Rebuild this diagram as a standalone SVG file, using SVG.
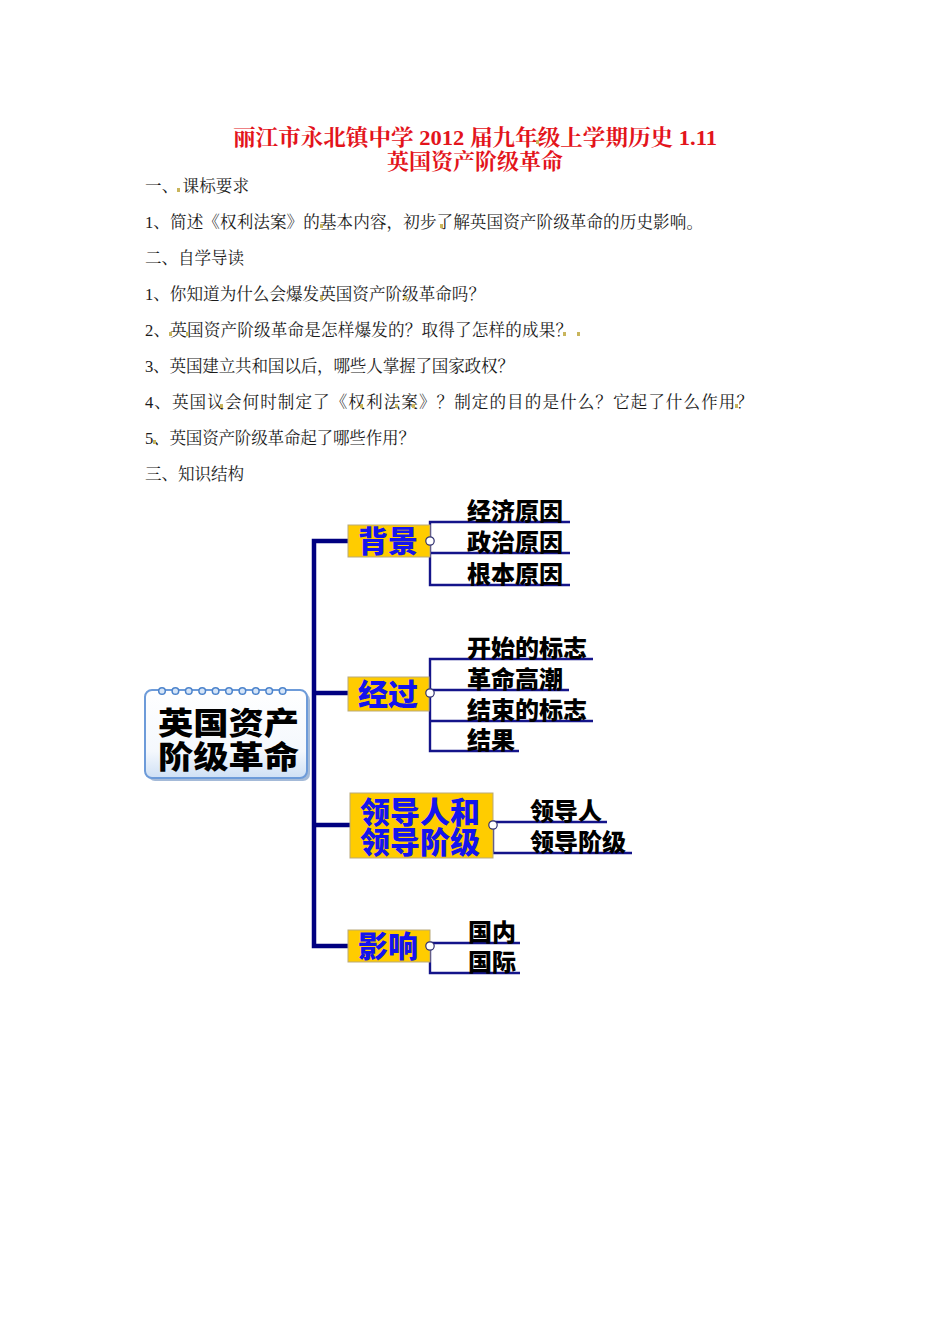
<svg xmlns="http://www.w3.org/2000/svg" width="950" height="1344" viewBox="0 0 950 1344">
<style>
.title{font-family:"Liberation Serif","Noto Serif CJK SC","Noto Sans CJK SC",serif;font-size:22px;font-weight:bold;fill:#e3141b;}
.body{font-family:"Liberation Serif","Noto Serif CJK SC","Noto Sans CJK SC",serif;font-size:16.6px;fill:#1a1a1a;}
.mark{fill:#c9b55c;}
.trunk{stroke:#000080;stroke-width:4.5;fill:none;stroke-linejoin:miter;}
.br{stroke:#14148a;stroke-width:2.4;fill:none;}
.box{fill:#ffcc00;stroke:#b9a97a;stroke-width:1;}
.blue{font-family:"Noto Sans CJK SC",sans-serif;font-weight:900;font-size:30px;fill:#1414ee;text-anchor:middle;}
.leaf{font-family:"Noto Sans CJK SC",sans-serif;font-weight:900;font-size:24px;fill:#000;}
.dot{fill:#fff;stroke:#303070;stroke-width:1.2;}
.ring{fill:#d6e5f7;stroke:#4d84cc;stroke-width:1.5;}
.ctext{font-family:"Noto Sans CJK SC",sans-serif;font-weight:900;font-size:31px;fill:#000;}
</style>
<defs>
<linearGradient id="cg" x1="0" y1="0" x2="0" y2="1">
<stop offset="0" stop-color="#ffffff"/>
<stop offset="0.7" stop-color="#f4f8fd"/>
<stop offset="1" stop-color="#cfe0f5"/>
</linearGradient>
</defs>
<rect width="950" height="1344" fill="#fff"/>
<g id="header">
<text class="title" x="233" y="145" textLength="484" lengthAdjust="spacingAndGlyphs">丽江市永北镇中学 2012 届九年级上学期历史 1.11</text>
<text class="title" x="387" y="169" textLength="176" lengthAdjust="spacingAndGlyphs">英国资产阶级革命</text>
<rect class="mark" x="536" y="140" width="3" height="4"/>
</g>
<g id="text">
<text class="body" x="145" y="192" textLength="104" lengthAdjust="spacing">一、 课标要求</text>
<text class="body" x="145" y="228" textLength="558" lengthAdjust="spacing">1、简述《权利法案》的基本内容，初步了解英国资产阶级革命的历史影响。</text>
<text class="body" x="145" y="264" textLength="99" lengthAdjust="spacing">二、自学导读</text>
<text class="body" x="145" y="300" textLength="340" lengthAdjust="spacing">1、你知道为什么会爆发英国资产阶级革命吗？</text>
<text class="body" x="145" y="336" textLength="427" lengthAdjust="spacing">2、英国资产阶级革命是怎样爆发的？取得了怎样的成果？</text>
<text class="body" x="145" y="372" textLength="369" lengthAdjust="spacing">3、英国建立共和国以后，哪些人掌握了国家政权？</text>
<text class="body" x="145" y="408" textLength="608" lengthAdjust="spacing">4、英国议会何时制定了《权利法案》？制定的目的是什么？它起了什么作用？</text>
<text class="body" x="145" y="444" textLength="270" lengthAdjust="spacing">5、英国资产阶级革命起了哪些作用？</text>
<text class="body" x="145" y="480" textLength="99" lengthAdjust="spacing">三、知识结构</text>
<rect class="mark" x="177" y="188" width="3" height="4"/>
<rect class="mark" x="320" y="224" width="3" height="4"/>
<rect class="mark" x="440" y="224" width="3" height="4"/>
<rect class="mark" x="320" y="296" width="3" height="4"/>
<rect class="mark" x="404" y="296" width="3" height="4"/>
<rect class="mark" x="169" y="332" width="3" height="4"/>
<rect class="mark" x="186" y="332" width="3" height="4"/>
<rect class="mark" x="563" y="332" width="3" height="4"/>
<rect class="mark" x="577" y="332" width="3" height="4"/>
<rect class="mark" x="220" y="404" width="3" height="4"/>
<rect class="mark" x="360" y="404" width="3" height="4"/>
<rect class="mark" x="395" y="404" width="3" height="4"/>
<rect class="mark" x="412" y="404" width="3" height="4"/>
<rect class="mark" x="735" y="404" width="3" height="4"/>
<rect class="mark" x="153" y="440" width="3" height="4"/>
</g>
<g id="connectors">
<path class="trunk" d="M348,541 H314 V946 H348"/>
<path class="trunk" d="M314,693 H348"/>
<path class="trunk" d="M314,825 H350"/>
<path class="br" d="M570,522 H430 V585 H570 M430,553 H570"/>
<path class="br" d="M593,659 H430 V751 H519 M430,690 H569 M430,721 H593"/>
<path class="br" d="M607,822 H493 V853 H632"/>
<path class="br" d="M520,943 H430 V973 H520"/>
</g>
<g id="center">
<rect x="148" y="693" width="162" height="88" rx="7" fill="#7d9cc8" opacity="0.7"/>
<rect x="145" y="690" width="162" height="88" rx="7" fill="url(#cg)" stroke="#6d9bd9" stroke-width="2"/>
<g>
<circle class="ring" cx="162" cy="691" r="3.3"/>
<circle class="ring" cx="175.4" cy="691" r="3.3"/>
<circle class="ring" cx="188.8" cy="691" r="3.3"/>
<circle class="ring" cx="202.2" cy="691" r="3.3"/>
<circle class="ring" cx="215.6" cy="691" r="3.3"/>
<circle class="ring" cx="229" cy="691" r="3.3"/>
<circle class="ring" cx="242.4" cy="691" r="3.3"/>
<circle class="ring" cx="255.8" cy="691" r="3.3"/>
<circle class="ring" cx="269.2" cy="691" r="3.3"/>
<circle class="ring" cx="282.6" cy="691" r="3.3"/>
</g>
<text class="ctext" x="158" y="734" textLength="141" lengthAdjust="spacingAndGlyphs">英国资产</text>
<text class="ctext" x="158" y="768" textLength="141" lengthAdjust="spacingAndGlyphs">阶级革命</text>
</g>
<g id="bg">
<rect class="box" x="348" y="525" width="82" height="32"/>
<text class="blue" x="388" y="552">背景</text>
<circle class="dot" cx="430" cy="541" r="4.2"/>
<text class="leaf" x="467" y="520">经济原因</text>
<text class="leaf" x="467" y="551">政治原因</text>
<text class="leaf" x="467" y="583">根本原因</text>
</g>
<g id="jg">
<rect class="box" x="348" y="677" width="81" height="34"/>
<text class="blue" x="388" y="705">经过</text>
<circle class="dot" cx="430" cy="693" r="4.2"/>
<text class="leaf" x="467" y="657">开始的标志</text>
<text class="leaf" x="467" y="688">革命高潮</text>
<text class="leaf" x="467" y="719">结束的标志</text>
<text class="leaf" x="467" y="749">结果</text>
</g>
<g id="ld">
<rect class="box" x="350" y="793" width="143" height="65"/>
<text class="blue" x="420" y="823" font-size="31">领导人和</text>
<text class="blue" x="420" y="853" font-size="31">领导阶级</text>
<circle class="dot" cx="493" cy="825" r="4.2"/>
<text class="leaf" x="530" y="820">领导人</text>
<text class="leaf" x="530" y="851">领导阶级</text>
</g>
<g id="yx">
<rect class="box" x="348" y="930" width="82" height="32"/>
<text class="blue" x="388" y="957">影响</text>
<circle class="dot" cx="430" cy="946" r="4.2"/>
<text class="leaf" x="468" y="941">国内</text>
<text class="leaf" x="468" y="971">国际</text>
</g>
</svg>
